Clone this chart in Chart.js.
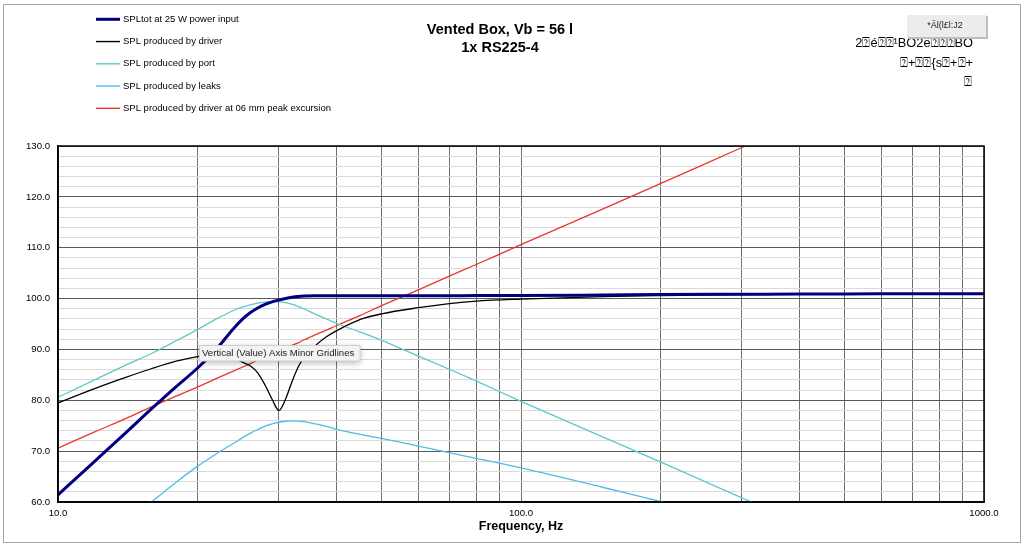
<!DOCTYPE html>
<html>
<head>
<meta charset="utf-8">
<script src="https://cdn.jsdelivr.net/npm/chart.js@4.4.1/dist/chart.umd.min.js"></script>
<style>
  html, body { margin: 0; padding: 0; background: #fff; }
  #wrap { width: 1024px; height: 546px; position: relative; }
</style>
</head>
<body>
<div id="wrap"><canvas id="spl" width="1024" height="546"></canvas></div>
<script>
// frequencies (Hz) shared by every series
const freqHz = [10, 12, 14, 16, 18, 20, 22, 24, 25, 26, 27, 28, 29, 30, 31, 32, 33, 34, 36, 38,
                40, 45, 50, 60, 70, 80, 100, 150, 200, 300, 400, 500, 700, 1000];

// SPL values, dB
const splTotal = [61.4, 68.0, 73.6, 78.5, 82.7, 86.3, 90.1, 94.2, 95.9, 97.2, 98.15, 98.85, 99.35, 99.7, 100.0, 100.25, 100.42, 100.5, 100.55, 100.55,
                  100.55, 100.55, 100.55, 100.55, 100.55, 100.6, 100.6, 100.7, 100.8, 100.85, 100.9, 100.9, 100.95, 100.95];
const splDriver = [79.5, 82.3, 84.5, 86.3, 87.7, 88.6, 89.0, 88.3, 87.5, 86.8, 85.4, 83.0, 80.2, 78.0, 80.2, 83.6, 86.5, 88.5, 90.8, 92.5,
                   93.7, 95.9, 97.0, 98.2, 99.0, 99.5, 99.9, 100.4, 100.6, 100.8, 100.85, 100.9, 100.95, 100.95];
const splPort = [80.6, 84.0, 86.9, 89.3, 91.7, 93.9, 96.0, 97.7, 98.3, 98.75, 99.1, 99.3, 99.4, 99.35, 99.2, 98.9, 98.45, 97.95, 96.9, 96.0,
                 95.1, 93.4, 91.8, 88.7, 86.1, 83.8, 79.8, 72.8, 67.9, 60.8, 55.9, 52.0, 46.2, 40.0];
const splLeaks = [46.6, 51.9, 56.3, 60.2, 63.9, 67.0, 69.5, 71.6, 72.6, 73.5, 74.25, 74.9, 75.35, 75.7, 75.88, 75.95, 75.92, 75.8, 75.35, 74.85,
                  74.3, 73.3, 72.5, 71.0, 69.7, 68.6, 66.7, 62.9, 60.1, 56.3, 53.6, 51.5, 48.4, 45.0];
const splExcursion = [70.6, 73.8, 76.4, 78.8, 80.8, 82.6, 84.3, 85.8, 86.5, 87.2, 87.9, 88.5, 89.1, 89.7, 90.3, 90.8, 91.3, 91.9, 92.9, 93.8,
                      94.7, 96.7, 98.6, 101.7, 104.4, 106.7, 110.6, 117.6, 122.6, 129.7, 134.7, 138.6, 144.4, 150.6];

const seriesNames = [
  'SPLtot at 25 W power input',
  'SPL produced by driver',
  'SPL produced by port',
  'SPL produced by leaks',
  'SPL produced by driver at 06 mm peak excursion'
];
const seriesColors = ['#000080', '#000000', '#5ec8c8', '#4cbde6', '#e8372e'];
const seriesWidths = [3, 1.3, 1.3, 1.3, 1.3];

// x grid positions and decade labels
const xGridTicks = [10, 20, 30, 40, 50, 60, 70, 80, 90, 100, 200, 300, 400, 500, 600, 700, 800, 900, 1000];
const xLabelTicks = [10, 100, 1000];

const titleLines = ['Vented Box, Vb = 56 l', '1x RS225-4'];
const garbled = ['2\u2370é\u2370\u2370¹BO2e\u2370\u2370\u2370BO', '\u2370+\u2370\u2370{s\u2370+\u2370+', '\u2370'];
const buttonText = '*Ãl(l£l:J2';
const hoverText = 'Vertical (Value) Axis Minor Gridlines';

const FONT = '"Liberation Sans", Arial, "DejaVu Sans", sans-serif';

const allSeries = [splTotal, splDriver, splPort, splLeaks, splExcursion];
const datasets = allSeries.map((vals, i) => ({
  label: seriesNames[i],
  data: freqHz.map((f, k) => ({x: f, y: vals[k]})),
  borderColor: seriesColors[i],
  borderWidth: seriesWidths[i],
  pointRadius: 0,
  fill: false,
  cubicInterpolationMode: 'monotone'
}));

// extra drawing: frame, legend, title, odd text, hover box
const decor = {
  id: 'decor',
  beforeDraw(chart) {
    const ctx = chart.ctx;
    ctx.save();
    ctx.fillStyle = '#fff';
    ctx.fillRect(0, 0, chart.width, chart.height);
    ctx.strokeStyle = '#a6a6a6';
    ctx.lineWidth = 1;
    ctx.strokeRect(3.5, 4.5, 1017, 538);
    ctx.restore();
  },
  afterDraw(chart) {
    const ctx = chart.ctx;
    const a = chart.chartArea;
    ctx.save();
    // plot border
    ctx.strokeStyle = '#000';
    ctx.lineWidth = 1.5;
    ctx.strokeRect(a.left, a.top, a.right - a.left, a.bottom - a.top);

    // legend
    ctx.font = '9.5px ' + FONT;
    ctx.textBaseline = 'middle';
    ctx.textAlign = 'left';
    seriesNames.forEach((name, i) => {
      const y = 19.3 + i * 22.25;
      ctx.strokeStyle = seriesColors[i];
      ctx.lineWidth = i === 0 ? 3 : 1.4;
      ctx.beginPath();
      ctx.moveTo(96, y);
      ctx.lineTo(120, y);
      ctx.stroke();
      ctx.fillStyle = '#000';
      ctx.fillText(name, 123, y);
    });

    // title
    ctx.font = 'bold 14.5px ' + FONT;
    ctx.textAlign = 'center';
    ctx.fillText(titleLines[0], 500, 30);
    ctx.fillText(titleLines[1], 500, 47.5);

    // x axis title
    ctx.font = 'bold 12.5px ' + FONT;
    ctx.fillText('Frequency, Hz', (a.left + a.right) / 2, 527);

    // garbled text, top right
    ctx.font = '12.8px ' + FONT;
    ctx.textAlign = 'right';
    ctx.fillText(garbled[0], 973, 43.5);
    ctx.fillText(garbled[1], 973, 63.5);
    ctx.fillText(garbled[2], 972, 82);

    // grey button
    ctx.fillStyle = '#bdbdbd';
    ctx.fillRect(908, 16, 80, 23);
    ctx.fillStyle = '#ececec';
    ctx.fillRect(907, 15, 79, 22);
    ctx.fillStyle = '#222';
    ctx.font = '9px ' + FONT;
    ctx.textAlign = 'center';
    ctx.fillText(buttonText, 945, 26);

    // hover box
    ctx.shadowColor = 'rgba(0,0,0,0.28)';
    ctx.shadowBlur = 6;
    ctx.shadowOffsetY = 2;
    ctx.fillStyle = '#f3f3f3';
    ctx.fillRect(199.5, 345, 160.5, 16);
    ctx.shadowColor = 'transparent';
    ctx.strokeStyle = '#cfcfcf';
    ctx.lineWidth = 1;
    ctx.strokeRect(199.5, 345.5, 160.5, 15.5);
    ctx.fillStyle = '#1a1a1a';
    ctx.font = '9.6px ' + FONT;
    ctx.textAlign = 'left';
    ctx.fillText(hoverText, 202, 353.5);
    ctx.restore();
  }
};

new Chart(document.getElementById('spl'), {
  type: 'line',
  data: { datasets: datasets },
  plugins: [decor],
  options: {
    responsive: false,
    animation: false,
    events: [],
    layout: { padding: { top: 146, right: 40, left: 0, bottom: 0 } },
    plugins: {
      legend: { display: false },
      title: { display: false },
      tooltip: { enabled: false }
    },
    scales: {
      x: {
        type: 'logarithmic',
        min: 10,
        max: 1000,
        afterBuildTicks(scale) {
          scale.ticks = xGridTicks.map(v => ({ value: v }));
        },
        afterFit(scale) { scale.height = 44; },
        ticks: {
          autoSkip: false,
          maxRotation: 0,
          padding: 6,
          color: '#000',
          font: { family: FONT, size: 9.6 },
          callback: v => xLabelTicks.includes(v) ? v.toFixed(1) : ''
        },
        grid: { color: '#6e6e6e', lineWidth: 1, drawTicks: false },
        border: { display: true, color: '#000', width: 1.5 }
      },
      y: {
        type: 'linear',
        min: 60,
        max: 130,
        afterFit(scale) { scale.width = 58; },
        ticks: {
          stepSize: 2,
          autoSkip: false,
          padding: 8,
          color: '#000',
          font: { family: FONT, size: 9.6 },
          callback: v => v % 10 === 0 ? v.toFixed(1) : ''
        },
        grid: {
          drawTicks: false,
          lineWidth: 1,
          color: c => (c.tick && c.tick.value % 10 === 0) ? '#5a5a5a' : '#dadada'
        },
        border: { display: true, color: '#000', width: 1.5 }
      }
    }
  }
});
</script>
</body>
</html>
